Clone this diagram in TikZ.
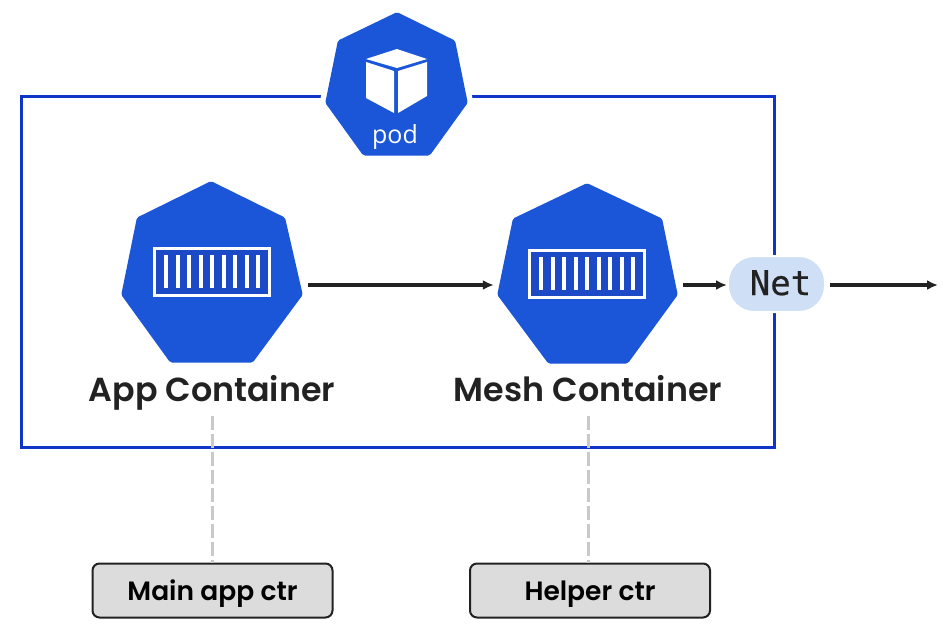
\documentclass[tikz,border=0pt]{standalone}
\usepackage{fontspec}
\usetikzlibrary{arrows.meta}
\setmainfont{Poppins}
\newfontfamily\labfont{Poppins SemiBold}
\newfontfamily\podfont{Open Sans}
\newfontfamily\netfont[FakeBold=0.6]{DejaVu Sans Mono}
\definecolor{kblue}{HTML}{1B56D8}
\definecolor{kdark}{HTML}{1C4AC6}
\definecolor{frameblue}{HTML}{0F35C8}
\definecolor{netfill}{HTML}{CFDFF5}
\definecolor{ink}{HTML}{222222}
\definecolor{boxfill}{HTML}{DCDCDC}
\definecolor{dashgray}{HTML}{C9C9C9}
\tikzset{
  x=1pt,y=-1pt,
  hept/.style={fill=kblue,draw=kblue,line width=7pt,line join=round},
  halo/.style={draw=white,line width=18pt,line join=round},
  frame/.style={draw=frameblue,line width=3pt},
  flow/.style={draw=ink,line width=3.4pt,-{Latex[length=11pt,width=10pt]}},
  port/.style={inner sep=0pt,minimum height=8pt},
  lab/.style={font=\labfont\fontsize{33.3}{38}\selectfont,text=ink,inner sep=0pt,anchor=base},
  tagbox/.style={draw=ink,fill=boxfill,line width=2pt,rounded corners=7pt,minimum width=240pt,minimum height=54pt,inner sep=0pt},
  tagtext/.style={font=\labfont\fontsize{26.5}{30}\selectfont,text=black,inner sep=0pt,anchor=base},
  drop/.style={draw=dashgray,line width=3pt,dash pattern=on 14pt off 4pt},
  netpill/.style={fill=netfill,rounded corners=26pt,minimum width=97pt,minimum height=56pt,inner sep=0pt},
  nettext/.style={font=\netfont\fontsize{34}{38}\selectfont,text=ink,inner sep=0pt,anchor=base},
}
\newcommand{\ctricon}[2]{%
  \begin{scope}[shift={(#1,#2)}]
    \fill[kdark] (0,0) rectangle (118,50);
    \draw[white,line width=3.4pt] (1.7,1.7) rectangle (116.3,48.3);
    \foreach \bx in {13,25,36,48,59,71,82,94,105}
      \fill[white] (\bx-1.8,8) rectangle (\bx+1.8,40.5);
  \end{scope}}
\begin{document}
\begin{tikzpicture}
\useasboundingbox (0,0) rectangle (947,625);
\fill[white] (0,0) rectangle (947,625);
% frame
\draw[frame] (21,96) rectangle (774,447);
% net pill
\node[netpill,draw=white,line width=2pt] (net) at (776.5,284) {};
\node[nettext] (nettxt) at (780.5,295) {Net};
% pod
\draw[halo] (397,16)--(452,43)--(464,102)--(428,152)--(365,152)--(329,102)--(341,43)--cycle;
\draw[hept] (397,16)--(452,43)--(464,102)--(428,152)--(365,152)--(329,102)--(341,43)--cycle;
\fill[white] (397,49)--(427,59)--(397,68)--(366,59)--cycle;
\fill[white] (366,62)--(394,71)--(394,113)--(366,98)--cycle;
\fill[white] (398,71)--(427,62)--(427,96)--(398,113)--cycle;
\node[text=white,inner sep=0pt,anchor=base,font=\podfont\fontsize{25}{30}\selectfont] (podtext) at (395,143) {pod};
% containers
\draw[hept] (211,185)--(282,220)--(299,294)--(251,359)--(172,359)--(125,294)--(140,220)--cycle;
\draw[hept] (587,187)--(659,221)--(674,294)--(626,360)--(550,360)--(501,294)--(516,221)--cycle;
\ctricon{153}{247}
\ctricon{528}{249}
% ports for connectors
\node[port,minimum width=192pt] (app) at (212,285) {};
\node[port,minimum width=189pt] (mesh) at (588.5,285) {};
\coordinate (out) at (938,285);
\node[lab] (applabel) at (212,401) {App Container};
\node[lab] (meshlabel) at (588,401) {Mesh Container};
\node[tagbox] (mainbox) at (212.5,590.5) {};
\node[tagbox] (helperbox) at (590,590.5) {};
\node[tagtext] (maintxt) at (212.5,600) {Main app ctr};
\node[tagtext] (helpertxt) at (590,600) {Helper ctr};
\coordinate (appdrop) at (212,416);
\coordinate (meshdrop) at (588,416);
% connectors
\draw[flow] (app.east) -- (mesh.west);
\draw[flow] (mesh.east) -- (net.west |- mesh.east);
\draw[flow] ([xshift=4pt]net.east |- out) -- (out);
\draw[drop] (appdrop) -- (appdrop |- mainbox.north);
\draw[drop] (meshdrop) -- (meshdrop |- helperbox.north);
\end{tikzpicture}
\end{document}
